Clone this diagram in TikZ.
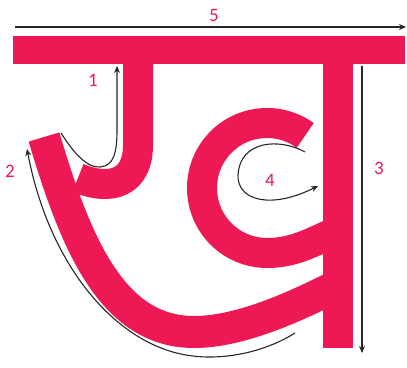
\documentclass[tikz,border=0pt]{standalone}
\usepackage{fontspec}
\setmainfont{Carlito}
\usepackage{tikz}
\usetikzlibrary{arrows.meta}
\definecolor{khapink}{RGB}{238,24,84}
\tikzset{
  pinkstroke/.style={draw=khapink, line width=30pt, line cap=butt, line join=round},
  arrow/.style={-{Stealth[length=7pt,width=6pt]}, line width=1.1pt, draw=black!85},
  num/.style={text=khapink, inner sep=0pt, font=\fontsize{19}{22}\selectfont}
}

\begin{document}
\begin{tikzpicture}[x=1pt, y=-1pt]
\useasboundingbox (0,0) rectangle (407,367);
% letter
\fill[khapink] (13,36) rectangle (405,64);
\fill[khapink] (323,50) rectangle (353,348);
\draw[pinkstroke] (138,50) -- (138,145) .. controls (138,182) and (112,192) .. (78,178);
\draw[pinkstroke, line width=32pt] (44,137) .. controls (75,241) and (111,332) .. (194,332) .. controls (240,332) and (295,307) .. (340,284);
\draw[pinkstroke] (267,188) ++(-54:65) arc[start angle=-54, end angle=-270, radius=65] .. controls +(30,0) and (315,240) .. (345,228);
% stroke order
\coordinate (s1) at (61,133);   \coordinate (e1) at (117,66);
\coordinate (s2) at (295,333);  \coordinate (e2) at (27,149);
\coordinate (s3) at (362,66);   \coordinate (e3) at (362,353);
\coordinate (s4) at (305,152);  \coordinate (e4) at (318,186);
\coordinate (s5) at (15,27);    \coordinate (e5) at (406,27);
\draw[arrow] (s1) .. controls (75,155) and (88,168) .. (100,167) .. controls (114,166) and (117,152) .. (117,130) -- (e1);
\draw[arrow] (s2) .. controls (265,352) and (225,360) .. (193,356) .. controls (120,348) and (50,270) .. (e2);
\draw[arrow] (s3) -- (e3);
\draw[arrow] (s4) .. controls (280,138) and (240,140) .. (238,175) .. controls (237,200) and (270,210) .. (e4);
\draw[arrow] (s5) -- (e5);
\node[num] (n1) at (93,80) {1};
\node[num] (n2) at (10,171) {2};
\node[num] (n3) at (379,168) {3};
\node[num] (n4) at (270,180) {4};
\node[num] (n5) at (214,15) {5};
\end{tikzpicture}
\end{document}
